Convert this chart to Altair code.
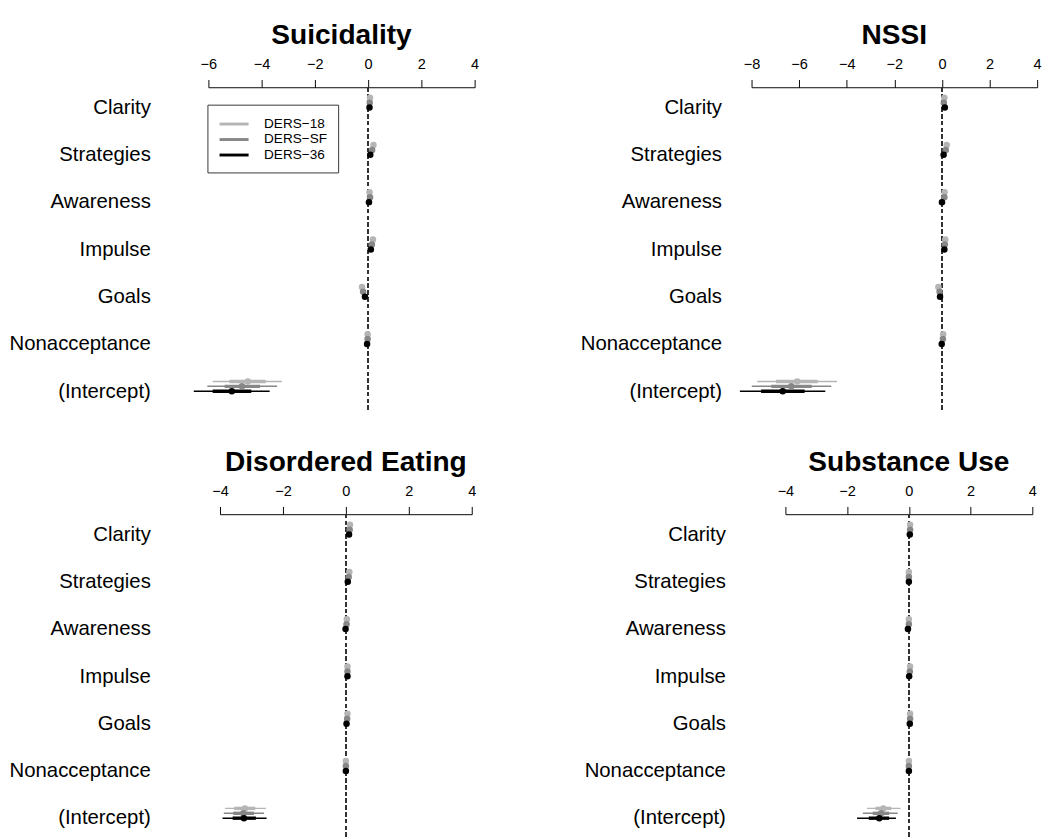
import json
import altair as alt
import pandas as pd

rows = ["Clarity", "Strategies", "Awareness", "Impulse", "Goals", "Nonacceptance", "(Intercept)"]
series = ["DERS-18", "DERS-SF", "DERS-36"]
series_colors = ["#b5b5b5", "#878787", "#000000"]

# ---- Suicidality ----
sui_18_est = [0.07, 0.20, 0.05, 0.18, -0.23, -0.02, -4.52]
sui_18_lo = [0.00, 0.13, -0.02, 0.11, -0.30, -0.09, -5.84]
sui_18_hi = [0.14, 0.27, 0.12, 0.25, -0.16, 0.05, -3.24]
sui_18_lo50 = [0.04, 0.17, 0.02, 0.15, -0.26, -0.05, -5.21]
sui_18_hi50 = [0.10, 0.23, 0.08, 0.21, -0.20, 0.01, -3.85]
sui_sf_est = [0.06, 0.15, 0.07, 0.14, -0.19, -0.02, -4.74]
sui_sf_lo = [-0.01, 0.08, 0.00, 0.07, -0.26, -0.09, -6.04]
sui_sf_hi = [0.13, 0.22, 0.14, 0.21, -0.12, 0.05, -3.42]
sui_sf_lo50 = [0.03, 0.12, 0.04, 0.11, -0.22, -0.05, -5.39]
sui_sf_hi50 = [0.09, 0.18, 0.10, 0.17, -0.16, 0.01, -4.06]
sui_36_est = [0.05, 0.08, 0.03, 0.10, -0.12, -0.04, -5.12]
sui_36_lo = [-0.03, 0.00, -0.05, 0.02, -0.20, -0.12, -6.55]
sui_36_hi = [0.13, 0.16, 0.11, 0.18, -0.04, 0.04, -3.70]
sui_36_lo50 = [0.01, 0.04, -0.01, 0.06, -0.16, -0.08, -5.84]
sui_36_hi50 = [0.09, 0.12, 0.07, 0.14, -0.08, 0.00, -4.39]

# ---- NSSI ----
nssi_18_est = [0.10, 0.20, 0.11, 0.14, -0.15, 0.05, -6.08]
nssi_18_lo = [0.02, 0.12, 0.03, 0.06, -0.23, -0.03, -7.76]
nssi_18_hi = [0.18, 0.28, 0.19, 0.22, -0.07, 0.13, -4.41]
nssi_18_lo50 = [0.06, 0.16, 0.07, 0.10, -0.19, 0.01, -6.97]
nssi_18_hi50 = [0.14, 0.24, 0.15, 0.18, -0.11, 0.09, -5.22]
nssi_sf_est = [0.08, 0.16, 0.10, 0.12, -0.10, 0.04, -6.33]
nssi_sf_lo = [0.00, 0.08, 0.02, 0.04, -0.18, -0.04, -7.99]
nssi_sf_hi = [0.16, 0.24, 0.18, 0.20, -0.02, 0.12, -4.65]
nssi_sf_lo50 = [0.04, 0.12, 0.06, 0.08, -0.14, 0.00, -7.17]
nssi_sf_hi50 = [0.12, 0.20, 0.14, 0.16, -0.06, 0.08, -5.47]
nssi_36_est = [0.12, 0.07, 0.00, 0.10, -0.08, -0.01, -6.69]
nssi_36_lo = [0.03, -0.02, -0.09, 0.01, -0.17, -0.10, -8.49]
nssi_36_hi = [0.21, 0.16, 0.09, 0.19, 0.01, 0.08, -4.90]
nssi_36_lo50 = [0.08, 0.03, -0.04, 0.06, -0.12, -0.05, -7.60]
nssi_36_hi50 = [0.16, 0.11, 0.04, 0.14, -0.04, 0.03, -5.77]

# ---- Disordered Eating ----
ed_18_est = [0.13, 0.11, 0.03, 0.05, 0.05, 0.00, -3.21]
ed_18_lo = [0.07, 0.05, -0.03, -0.01, -0.01, -0.06, -3.84]
ed_18_hi = [0.19, 0.17, 0.09, 0.11, 0.11, 0.06, -2.54]
ed_18_lo50 = [0.10, 0.08, 0.00, 0.02, 0.02, -0.03, -3.55]
ed_18_hi50 = [0.16, 0.14, 0.06, 0.08, 0.08, 0.03, -2.88]
ed_sf_est = [0.12, 0.09, 0.02, 0.05, 0.04, 0.00, -3.26]
ed_sf_lo = [0.06, 0.03, -0.04, -0.01, -0.02, -0.06, -3.88]
ed_sf_hi = [0.18, 0.15, 0.08, 0.11, 0.10, 0.06, -2.60]
ed_sf_lo50 = [0.09, 0.06, -0.01, 0.02, 0.01, -0.03, -3.58]
ed_sf_hi50 = [0.15, 0.12, 0.05, 0.08, 0.07, 0.03, -2.92]
ed_36_est = [0.10, 0.06, -0.01, 0.05, 0.02, 0.00, -3.24]
ed_36_lo = [0.03, -0.01, -0.08, -0.02, -0.05, -0.07, -3.92]
ed_36_hi = [0.17, 0.13, 0.06, 0.12, 0.09, 0.07, -2.52]
ed_36_lo50 = [0.07, 0.03, -0.04, 0.02, -0.01, -0.03, -3.60]
ed_36_hi50 = [0.13, 0.09, 0.02, 0.08, 0.05, 0.03, -2.86]

# ---- Substance Use ----
su_18_est = [0.04, 0.00, 0.00, 0.04, 0.04, 0.00, -0.83]
su_18_lo = [-0.02, -0.06, -0.06, -0.02, -0.02, -0.06, -1.36]
su_18_hi = [0.10, 0.06, 0.06, 0.10, 0.10, 0.06, -0.27]
su_18_lo50 = [0.01, -0.03, -0.03, 0.01, 0.01, -0.03, -1.08]
su_18_hi50 = [0.07, 0.03, 0.03, 0.07, 0.07, 0.03, -0.57]
su_sf_est = [0.04, 0.00, 0.00, 0.03, 0.04, 0.00, -0.90]
su_sf_lo = [-0.02, -0.06, -0.06, -0.03, -0.02, -0.06, -1.49]
su_sf_hi = [0.10, 0.06, 0.06, 0.09, 0.10, 0.06, -0.36]
su_sf_lo50 = [0.01, -0.03, -0.03, 0.00, 0.01, -0.03, -1.17]
su_sf_hi50 = [0.07, 0.03, 0.03, 0.06, 0.07, 0.03, -0.64]
su_36_est = [0.03, 0.00, -0.03, 0.01, 0.03, 0.00, -0.96]
su_36_lo = [-0.04, -0.07, -0.10, -0.06, -0.04, -0.07, -1.68]
su_36_hi = [0.10, 0.07, 0.04, 0.08, 0.10, 0.07, -0.42]
su_36_lo50 = [0.00, -0.03, -0.06, -0.02, 0.00, -0.03, -1.30]
su_36_hi50 = [0.06, 0.03, 0.00, 0.04, 0.06, 0.03, -0.64]

FONT = "Liberation Sans"
PANEL_H = 333
MINUS = "\u2212"


def build_df(parts):
    recs = []
    for s, (est, lo, hi, lo50, hi50) in zip(series, parts):
        for i, r in enumerate(rows):
            recs.append(dict(series=s, row=r, ri=i, est=est[i], lo=lo[i], hi=hi[i],
                             lo50=lo50[i], hi50=hi50[i]))
    return pd.DataFrame(recs)


def panel(title, parts, xdom, xticks, width, label_pad, legend=False):
    df = build_df(parts)
    yexpr = json.dumps(rows) + "[datum.value]"
    xaxis = alt.Axis(orient="top", values=xticks, format="d", domain=True, domainColor="black",
                     domainWidth=1, ticks=True, tickColor="black", tickSize=8, tickWidth=1,
                     labelFontSize=15, labelFont=FONT, labelColor="black", labelPadding=8,
                     labelFlush=False, labelOverlap=False, grid=False, title=None)
    yaxis = alt.Axis(values=list(range(len(rows))), labelExpr=yexpr, domain=False, ticks=False,
                     tickSize=0, grid=False, labelPadding=label_pad, labelFontSize=21,
                     labelFont=FONT, labelColor="black", labelBaseline="middle", title=None)
    xs = alt.Scale(domain=xdom, nice=False, zero=False)
    ys = alt.Scale(domain=[-0.43, 6.39], reverse=True, nice=False, zero=False)
    cs = alt.Scale(domain=series, range=series_colors)
    if legend:
        leg = alt.Legend(orient="none", legendX=-1, legendY=18, title=None,
                         symbolType="M-2,0L2,0", symbolSize=225, symbolOffset=7.5,
                         symbolStrokeWidth=3, labelFontSize=14, labelFont=FONT,
                         labelColor="black", labelExpr="replace(datum.label, '-', '" + MINUS + "')",
                         strokeColor="#333333", fillColor="white", padding=11, rowPadding=-3,
                         labelOffset=22)
    else:
        leg = None

    base = alt.Chart(df).transform_calculate(
        yy="datum.ri + (datum.series == 'DERS-18' ? -0.207 : (datum.series == 'DERS-SF' ? -0.103 : 0))"
    )
    y = alt.Y("yy:Q", scale=ys, axis=yaxis)
    thin = base.mark_rule(strokeWidth=1.5).encode(
        x=alt.X("lo:Q", scale=xs, axis=xaxis), x2="hi:Q", y=y,
        stroke=alt.Stroke("series:N", scale=cs, legend=leg))
    thick = base.mark_rule(strokeWidth=3.5).encode(
        x=alt.X("lo50:Q", scale=xs, axis=xaxis), x2="hi50:Q", y=y,
        stroke=alt.Stroke("series:N", scale=cs, legend=None))
    pts = base.mark_circle(size=45, opacity=1).encode(
        x=alt.X("est:Q", scale=xs, axis=xaxis), y=y,
        fill=alt.Fill("series:N", scale=cs, legend=None))
    zero = alt.Chart(df).mark_rule(color="#333333", strokeWidth=1.3, strokeDash=[4, 3]).encode(
        x=alt.datum(0, scale=xs, axis=xaxis), y=alt.value(0), y2=alt.value(PANEL_H))
    return alt.layer(zero, thin, thick, pts).properties(
        width=width, height=PANEL_H,
        title=alt.TitleParams(title, fontSize=29, fontWeight="bold", font=FONT, anchor="middle",
                              frame="group", offset=8, color="black"))


p1 = panel("Suicidality",
           [(sui_18_est, sui_18_lo, sui_18_hi, sui_18_lo50, sui_18_hi50),
            (sui_sf_est, sui_sf_lo, sui_sf_hi, sui_sf_lo50, sui_sf_hi50),
            (sui_36_est, sui_36_lo, sui_36_hi, sui_36_lo50, sui_36_hi50)],
           [-6, 4], [-6, -4, -2, 0, 2, 4], 275, 60, legend=True)
p2 = panel("NSSI",
           [(nssi_18_est, nssi_18_lo, nssi_18_hi, nssi_18_lo50, nssi_18_hi50),
            (nssi_sf_est, nssi_sf_lo, nssi_sf_hi, nssi_sf_lo50, nssi_sf_hi50),
            (nssi_36_est, nssi_36_lo, nssi_36_hi, nssi_36_lo50, nssi_36_hi50)],
           [-8, 4], [-8, -6, -4, -2, 0, 2, 4], 295, 31)
p3 = panel("Disordered Eating",
           [(ed_18_est, ed_18_lo, ed_18_hi, ed_18_lo50, ed_18_hi50),
            (ed_sf_est, ed_sf_lo, ed_sf_hi, ed_sf_lo50, ed_sf_hi50),
            (ed_36_est, ed_36_lo, ed_36_hi, ed_36_lo50, ed_36_hi50)],
           [-4, 4], [-4, -2, 0, 2, 4], 260, 72)
p4 = panel("Substance Use",
           [(su_18_est, su_18_lo, su_18_hi, su_18_lo50, su_18_hi50),
            (su_sf_est, su_sf_lo, su_sf_hi, su_sf_lo50, su_sf_hi50),
            (su_36_est, su_36_lo, su_36_hi, su_36_lo50, su_36_hi50)],
           [-4, 4], [-4, -2, 0, 2, 4], 255, 62)

ind = dict(stroke="independent", fill="independent")


def spacer():
    # empty 1px cell so each row starts flush at its own left bound
    return alt.Chart(pd.DataFrame({"v": [0]})).mark_point(
        opacity=0, size=0, strokeWidth=0).properties(width=1, height=1)


top = alt.hconcat(spacer(), alt.hconcat(p1, p2, spacing=104).resolve_scale(**ind),
                  spacing=0).resolve_scale(**ind)
bottom = alt.hconcat(spacer(), alt.hconcat(p3, p4, spacing=111).resolve_scale(**ind),
                     spacing=0).resolve_scale(**ind)
chart = alt.concat(top, bottom, columns=1, align="none", spacing=39, padding=0).resolve_scale(
    **ind).configure(font=FONT).configure_view(stroke="transparent", strokeWidth=0)

chart.save("out.html", embed_options={"renderer": "svg", "actions": False})
